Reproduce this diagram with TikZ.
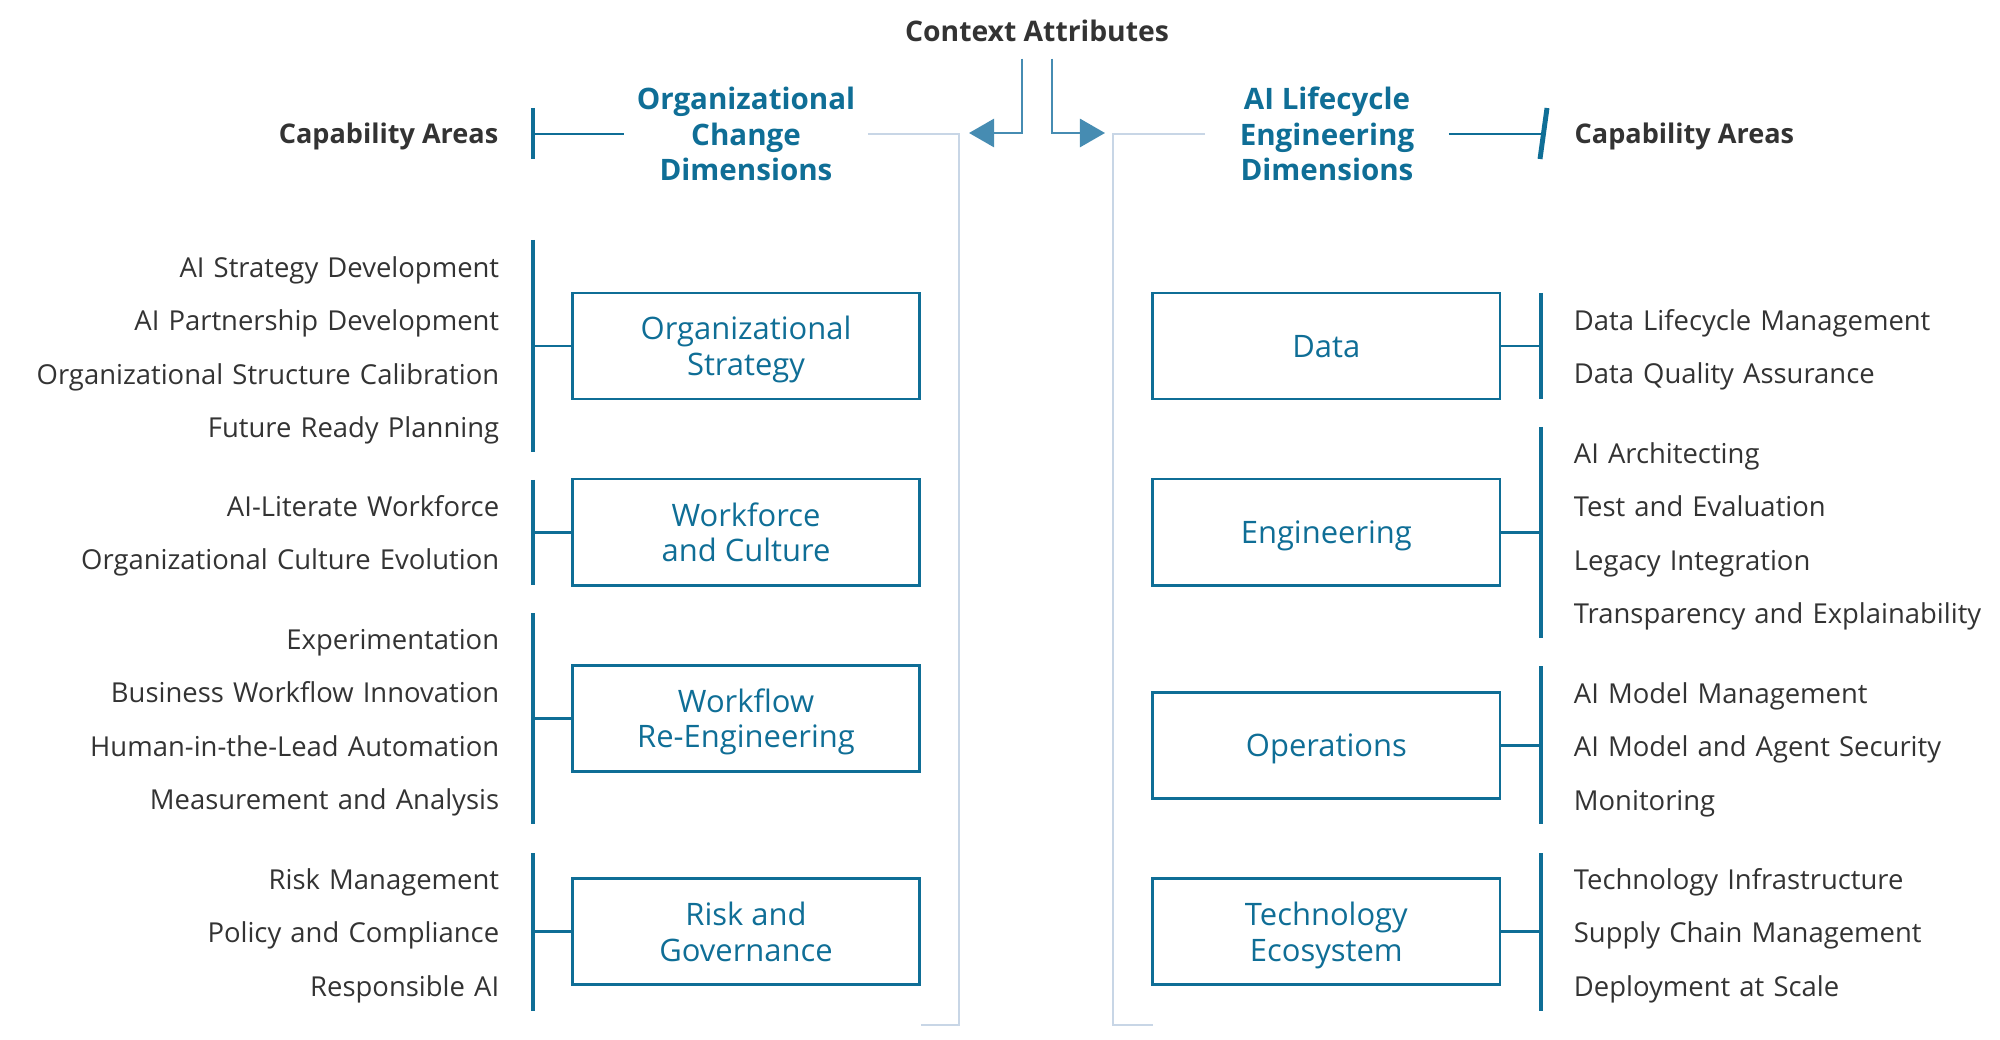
\documentclass[tikz,border=0pt]{standalone}
\usepackage{fontspec}
\setmainfont{Open Sans}
\usepackage{xcolor}
\usepackage{tikz}
\usetikzlibrary{arrows.meta,positioning}

\definecolor{dimteal}{RGB}{15,110,150}
\definecolor{ctxblue}{RGB}{70,140,178}
\definecolor{railgray}{RGB}{200,214,230}
\definecolor{itemgray}{RGB}{51,51,51}

\begin{document}
\begin{tikzpicture}[
      x=0.01cm, y=-0.01cm,
      node distance=2.45mm and 23.3mm,
      item/.style={inner sep=0pt, text width=52mm, text height=6pt, text depth=1.8pt, text=itemgray, font=\fontsize{7.8}{10}\selectfont},
      litem/.style={item, align=right},
      ritem/.style={item, text width=44mm, align=left},
      dimbox/.style={draw=dimteal, line width=0.8pt, outer sep=0pt, text depth=0pt, text=dimteal, align=center, minimum width=34.7mm, minimum height=10.6mm, font=\fontsize{8.8}{10.2}\selectfont},
      head/.style={inner sep=0pt, text=dimteal, align=center, minimum width=24.2mm, font=\bfseries\fontsize{8.4}{10}\selectfont},
      areahead/.style={inner sep=0pt, text=itemgray, font=\bfseries\fontsize{7.7}{10}\selectfont},
      bar/.style={draw=dimteal, line width=1.4pt},
      link/.style={draw=dimteal, line width=0.8pt},
      rail/.style={draw=railgray, line width=0.7pt},
      arr/.style={-{Triangle[length=2.5mm, width=2.8mm]}, draw=ctxblue, line width=0.8pt}
    ]
    \useasboundingbox (0,0) rectangle (2000,1040);

    % headers
    \node[areahead, inner ysep=1.6mm, font=\bfseries\fontsize{8.05}{10}\selectfont] (ctx) at (1037,31) {Context Attributes};
    \node[head] (och) at (746,134) {Organizational\\Change\\Dimensions};
    \node[head] (led) at (1327,134) {AI Lifecycle\\Engineering\\Dimensions};
    \node[areahead, anchor=east] (lcap) at (499,136) {Capability Areas};
    \node[areahead, anchor=west] (rcap) at (1574,136) {Capability Areas};

    \coordinate (lct) at (533,108);
    \coordinate (lcb) at (533,159);
    \coordinate (rct) at (1547,108);
    \coordinate (rcb) at (1540,159);
    \coordinate (rcm) at (1543.5,134);
    \draw[bar] (lct) -- (lcb);
    \draw[link] (lct |- och.west) -- (och.west);
    \draw[bar] (rcb) -- (rct);
    \draw[link] (led.east) -- (rcm);

    \coordinate (lturn) at (959,133);
    \coordinate (rturn) at (1113,133);
    \coordinate (lend) at (921,1025);
    \coordinate (rend) at (1153,1025);
    \draw[rail] (och.east) -| (lturn |- lend) -- (lend);
    \draw[rail] (led.west) -| (rturn |- rend) -- (rend);
    \draw[arr] ([xshift=-1.5mm]ctx.south) |- ([xshift=1mm]lturn);
    \draw[arr] ([xshift=1.5mm]ctx.south) |- ([xshift=-0.8mm]rturn);

    % dimension boxes
    \node[dimbox] (os) at (746,346) {Organizational\\Strategy};
    \node[dimbox, below=8mm of os] (wc) {Workforce\\and Culture};
    \node[dimbox, below=8mm of wc] (wr) {Workflow\\Re-Engineering};
    \node[dimbox, below=10.7mm of wr] (rg) {Risk and\\Governance};
    \node[dimbox, right=of os] (data) {Data};
    \node[dimbox, right=of wc] (eng) {Engineering};
    \node[dimbox, below=10.7mm of eng] (ops) {Operations};
    \node[dimbox, right=of rg] (tech) {Technology\\Ecosystem};

    % left capability areas
    \node[litem] (l1a) at (239,270) {AI Strategy Development};
    \node[litem, below=of l1a] (l1b) {AI Partnership Development};
    \node[litem, below=of l1b] (l1c) {Organizational Structure Calibration};
    \node[litem, below=of l1c] (l1d) {Future Ready Planning};
    \node[litem] (l2a) at (239,509) {AI-Literate Workforce};
    \node[litem, below=of l2a] (l2b) {Organizational Culture Evolution};
    \node[litem] (l3a) at (239,642) {Experimentation};
    \node[litem, below=of l3a] (l3b) {Business Workflow Innovation};
    \node[litem, below=of l3b] (l3c) {Human-in-the-Lead Automation};
    \node[litem, below=of l3c] (l3d) {Measurement and Analysis};
    \node[litem] (l4a) at (239,882) {Risk Management};
    \node[litem, below=of l4a] (l4b) {Policy and Compliance};
    \node[litem, below=of l4b] (l4c) {Responsible AI};

    % right capability areas
    \node[ritem] (r1a) at (1794,323) {Data Lifecycle Management};
    \node[ritem, below=of r1a] (r1b) {Data Quality Assurance};
    \node[ritem] (r2a) at (1794,456) {AI Architecting};
    \node[ritem, below=of r2a] (r2b) {Test and Evaluation};
    \node[ritem, below=of r2b] (r2c) {Legacy Integration};
    \node[ritem, below=of r2c] (r2d) {Transparency and Explainability};
    \node[ritem] (r3a) at (1794,696) {AI Model Management};
    \node[ritem, below=of r3a] (r3b) {AI Model and Agent Security};
    \node[ritem, below=of r3b] (r3c) {Monitoring};
    \node[ritem] (r4a) at (1794,882) {Technology Infrastructure};
    \node[ritem, below=of r4a] (r4b) {Supply Chain Management};
    \node[ritem, below=of r4b] (r4c) {Deployment at Scale};

    % brackets
    \coordinate (lb1t) at (533,240);  \coordinate (lb1b) at (533,452);
    \coordinate (lb2t) at (533,480);  \coordinate (lb2b) at (533,585);
    \coordinate (lb3t) at (533,613);  \coordinate (lb3b) at (533,824);
    \coordinate (lb4t) at (533,853);  \coordinate (lb4b) at (533,1011);
    \coordinate (rb1t) at (1541,293); \coordinate (rb1b) at (1541,399);
    \coordinate (rb2t) at (1541,427); \coordinate (rb2b) at (1541,638);
    \coordinate (rb3t) at (1541,666); \coordinate (rb3b) at (1541,824);
    \coordinate (rb4t) at (1541,853); \coordinate (rb4b) at (1541,1011);
    \draw[bar] (lb1t) -- (lb1b);
    \draw[bar] (lb2t) -- (lb2b);
    \draw[bar] (lb3t) -- (lb3b);
    \draw[bar] (lb4t) -- (lb4b);
    \draw[bar] (rb1t) -- (rb1b);
    \draw[bar] (rb2t) -- (rb2b);
    \draw[bar] (rb3t) -- (rb3b);
    \draw[bar] (rb4t) -- (rb4b);
    \draw[link] (os.west) -- (os.west -| lb1t);
    \draw[link] (wc.west) -- (wc.west -| lb2t);
    \draw[link] (wr.west) -- (wr.west -| lb3t);
    \draw[link] (rg.west) -- (rg.west -| lb4t);
    \draw[link] (data.east) -- (data.east -| rb1t);
    \draw[link] (eng.east) -- (eng.east -| rb2t);
    \draw[link] (ops.east) -- (ops.east -| rb3t);
    \draw[link] (tech.east) -- (tech.east -| rb4t);
  \end{tikzpicture}
\end{document}
